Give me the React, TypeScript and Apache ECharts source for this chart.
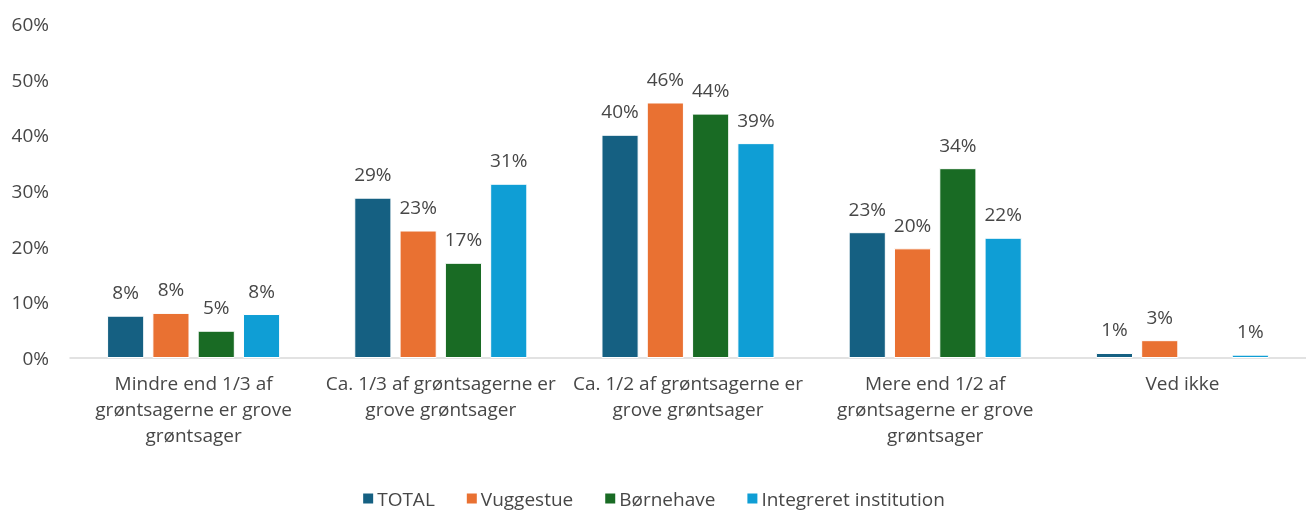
import React, { useEffect, useRef } from "react";
import * as echarts from "echarts";

const categories = [
  "Mindre end 1/3 af\ngrøntsagerne er grove\ngrøntsager",
  "Ca. 1/3 af grøntsagerne er\ngrove grøntsager",
  "Ca. 1/2 af grøntsagerne er\ngrove grøntsager",
  "Mere end 1/2 af\ngrøntsagerne er grove\ngrøntsager",
  "Ved ikke",
];
const seriesNames = ["TOTAL", "Vuggestue", "Børnehave", "Integreret institution"];
const total = [7.6, 28.8, 40.1, 22.6, 0.9];
const vuggestue = [8.1, 22.9, 45.9, 19.7, 3.2];
const boernehave = [4.9, 17.1, 43.9, 34.1, 0];
const integreret = [7.9, 31.3, 38.6, 21.6, 0.6];
const colors = ["#156082", "#E97132", "#196B24", "#0F9ED5"];

const FONT = "'Open Sans', 'Noto Sans', sans-serif";
const TXT = "#474747";
const FS = 19;

export default function App() {
  const ref = useRef<HTMLDivElement>(null);
  useEffect(() => {
    if (!ref.current) return;
    const chart = echarts.init(ref.current, undefined, { renderer: "svg" });
    const data = [total, vuggestue, boernehave, integreret];
    chart.setOption({
      animation: false,
      textStyle: { fontFamily: FONT },
      grid: { left: 70, right: 0, top: 24, bottom: 152 },
      legend: {
        top: 484,
        left: "center",
        itemWidth: 12,
        itemHeight: 12,
        itemGap: 30,
        icon: "rect",
        textStyle: { fontSize: FS, color: TXT, fontFamily: FONT, padding: [0, 0, 0, -2] },
        data: seriesNames,
      },
      xAxis: {
        type: "category",
        data: categories,
        axisLine: { lineStyle: { color: "#D9D9D9", width: 1.5 } },
        axisTick: { show: false },
        axisLabel: {
          fontSize: FS,
          color: TXT,
          lineHeight: 26,
          margin: 12,
          interval: 0,
          fontFamily: FONT,
        },
      },
      yAxis: {
        type: "value",
        min: 0,
        max: 60,
        interval: 10,
        splitLine: { show: false },
        axisLine: { show: false },
        axisTick: { show: false },
        axisLabel: {
          fontSize: FS,
          color: TXT,
          margin: 21,
          formatter: (v: number) => v + "%",
          fontFamily: FONT,
        },
      },
      series: seriesNames.map((name, i) => ({
        name,
        type: "bar",
        data: data[i].map((v) => (v === 0 ? null : v)),
        barGap: "22%",
        barCategoryGap: "30%",
        itemStyle: { color: colors[i], borderColor: "#ffffff", borderWidth: 1 },
        label: {
          show: true,
          position: "top",
          distance: 14,
          fontSize: FS,
          color: TXT,
          fontFamily: FONT,
          formatter: (p: any) => Math.round(p.value) + "%",
        },
      })),
    });
    return () => chart.dispose();
  }, []);
  return (
    <div
      ref={ref}
      style={{ position: "fixed", left: 0, top: 0, width: 1306, height: 510 }}
    />
  );
}
